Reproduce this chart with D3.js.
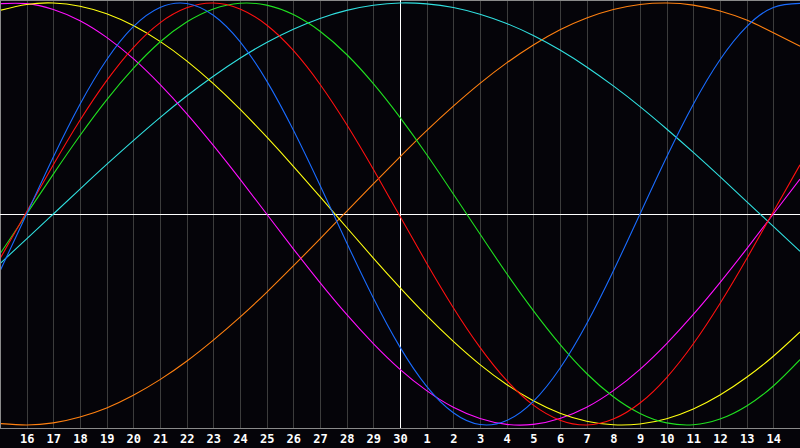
<!DOCTYPE html>
<html>
<head>
<meta charset="utf-8">
<script src="https://cdn.jsdelivr.net/npm/d3@7"></script>
<style>
  html, body { margin: 0; padding: 0; background: #050409; }
  svg { display: block; }
</style>
</head>
<body>
<svg id="chart" width="800" height="448"></svg>
<script>
// day labels, one per grid line (index 1..29)
const dayLabels = ["16","17","18","19","20","21","22","23","24","25","26","27","28","29","30",
  "1","2","3","4","5","6","7","8","9","10","11","12","13","14"];

// values read per day, index 0..30 (day 15 .. day 15 next month)
const physical = [-0.270,0.000,0.270,0.520,0.731,0.888,0.979,0.998,0.942,0.817,0.631,0.398,0.136,-0.136,-0.398,
  -0.631,-0.817,-0.942,-0.998,-0.979,-0.888,-0.731,-0.520,-0.270,0.000,0.270,0.520,0.731,0.888,0.979,0.998];
const emotional = [-0.212,0.011,0.233,0.444,0.632,0.789,0.906,0.977,1.000,0.972,0.896,0.775,0.615,0.424,0.212,
  -0.011,-0.233,-0.444,-0.632,-0.789,-0.906,-0.977,-1.000,-0.972,-0.896,-0.775,-0.615,-0.424,-0.212,0.011,0.233];
const intellectual = [-0.189,0.000,0.189,0.372,0.541,0.690,0.815,0.910,0.972,0.999,0.990,0.945,0.866,0.756,0.618,
  0.458,0.282,0.095,-0.095,-0.282,-0.458,-0.618,-0.756,-0.866,-0.945,-0.990,-0.999,-0.972,-0.910,-0.815,-0.690];
const spiritual = [-0.235,-0.118,0.000,0.118,0.235,0.348,0.457,0.559,0.653,0.738,0.813,0.876,0.927,0.965,0.989,
  1.000,0.996,0.979,0.947,0.903,0.846,0.777,0.697,0.607,0.509,0.403,0.292,0.177,0.059,-0.059,-0.177];
const awareness = [-0.993,-1.000,-0.990,-0.962,-0.919,-0.859,-0.785,-0.698,-0.598,-0.489,-0.371,-0.246,-0.118,0.013,0.143,
  0.271,0.395,0.511,0.619,0.716,0.801,0.873,0.929,0.969,0.993,1.000,0.990,0.962,0.919,0.859,0.795];
const aesthetic = [0.965,0.993,1.000,0.985,0.949,0.893,0.818,0.726,0.618,0.497,0.365,0.226,0.082,-0.064,-0.209,
  -0.349,-0.482,-0.604,-0.714,-0.808,-0.885,-0.944,-0.982,-0.999,-0.995,-0.970,-0.924,-0.858,-0.774,-0.674,-0.559];
const intuitive = [0.997,0.997,0.969,0.916,0.837,0.736,0.614,0.476,0.325,0.165,0.000,-0.165,-0.325,-0.476,-0.614,
  -0.736,-0.837,-0.916,-0.969,-0.997,-0.997,-0.969,-0.916,-0.837,-0.736,-0.614,-0.476,-0.325,-0.165,0.000,0.165];

const seriesNames = ["awareness","spiritual","intuitive","aesthetic","intellectual","emotional","physical"];
const seriesValues = [awareness, spiritual, intuitive, aesthetic, intellectual, emotional, physical];
const seriesColors = ["#ff8010","#30e0e0","#ff10ff","#ffff10","#20e020","#ff1010","#1a6cff"];

const svg = d3.select("#chart");
const width = +svg.attr("width");
const plotH = 428;

const x = d3.scaleLinear().domain([0, 30]).range([0, width]);
const y = d3.scaleLinear().domain([-1, 1]).range([425, 3]);

svg.append("rect")
  .attr("width", width).attr("height", 448)
  .attr("fill", "#050409");

// vertical day grid
const ticks = d3.range(1, 30);
svg.append("g")
  .attr("transform", `translate(0,${plotH})`)
  .call(d3.axisBottom(x).tickValues(ticks).tickSize(-plotH).tickFormat(""))
  .call(g => g.select(".domain").remove())
  .call(g => g.selectAll("line").attr("stroke", "#3c3c3c").attr("shape-rendering", "crispEdges"));

// frame lines
svg.append("line").attr("x1", 0.5).attr("x2", 0.5).attr("y1", 0).attr("y2", plotH)
  .attr("stroke", "#8a8a8a").attr("shape-rendering", "crispEdges");
svg.append("line").attr("x1", 0).attr("x2", width).attr("y1", 0.5).attr("y2", 0.5)
  .attr("stroke", "#8a8a8a").attr("shape-rendering", "crispEdges");
svg.append("line").attr("x1", 0).attr("x2", width).attr("y1", plotH + 0.5).attr("y2", plotH + 0.5)
  .attr("stroke", "#8a8a8a").attr("shape-rendering", "crispEdges");

// today marker + zero line
svg.append("line").attr("x1", x(15) + 0.5).attr("x2", x(15) + 0.5).attr("y1", 0).attr("y2", plotH)
  .attr("stroke", "#ffffff").attr("shape-rendering", "crispEdges");
svg.append("line").attr("x1", 0).attr("x2", width).attr("y1", Math.round(y(0)) + 0.5).attr("y2", Math.round(y(0)) + 0.5)
  .attr("stroke", "#ffffff").attr("shape-rendering", "crispEdges");

// curves
const line = d3.line()
  .x((d, i) => x(i))
  .y(d => y(d))
  .curve(d3.curveNatural);

svg.append("clipPath").attr("id", "clip")
  .append("rect").attr("x", 1).attr("y", 1).attr("width", width - 1).attr("height", plotH - 1);

svg.append("g").attr("clip-path", "url(#clip)")
  .selectAll("path")
  .data(seriesValues)
  .join("path")
    .attr("class", (d, i) => seriesNames[i])
    .attr("d", line)
    .attr("fill", "none")
    .attr("stroke", (d, i) => seriesColors[i])
    .attr("stroke-width", 1.1);

// day labels
svg.append("g")
  .attr("transform", `translate(0,${plotH})`)
  .call(d3.axisBottom(x).tickValues(ticks).tickSize(0).tickPadding(6)
    .tickFormat((d, i) => dayLabels[i]))
  .call(g => g.select(".domain").remove())
  .call(g => g.selectAll("text")
    .attr("fill", "#ffffff")
    .attr("font-family", "DejaVu Sans Mono")
    .attr("font-weight", "bold")
    .attr("font-size", "12px"));
</script>
</body>
</html>
